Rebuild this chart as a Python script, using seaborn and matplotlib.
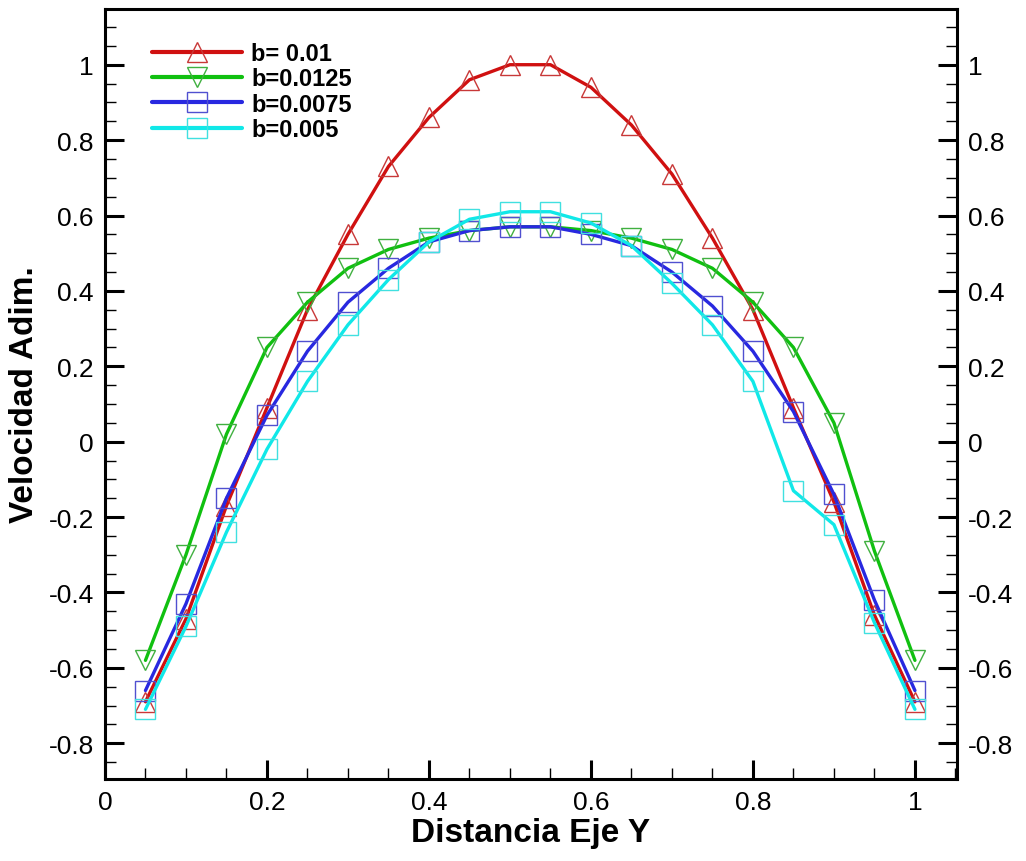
import numpy as np
import pandas as pd
import matplotlib
matplotlib.use('Agg')
import matplotlib.pyplot as plt
from matplotlib.lines import Line2D
from matplotlib.ticker import MultipleLocator
import seaborn as sns

# Datos
x = [0.05, 0.10, 0.15, 0.20, 0.25, 0.30, 0.35, 0.40, 0.45, 0.50,
     0.55, 0.60, 0.65, 0.70, 0.75, 0.80, 0.85, 0.90, 0.95, 1.00]

b_001 = [-0.69, -0.47, -0.17, 0.09, 0.35, 0.55, 0.73, 0.86, 0.96, 1.00,
         1.00, 0.94, 0.84, 0.71, 0.54, 0.35, 0.09, -0.16, -0.46, -0.69]
b_00125 = [-0.58, -0.30, 0.02, 0.25, 0.37, 0.46, 0.51, 0.54, 0.56, 0.57,
           0.57, 0.56, 0.54, 0.51, 0.46, 0.37, 0.25, 0.05, -0.29, -0.58]
b_00075 = [-0.66, -0.43, -0.15, 0.07, 0.24, 0.37, 0.46, 0.53, 0.56, 0.57,
           0.57, 0.55, 0.52, 0.45, 0.36, 0.24, 0.08, -0.14, -0.42, -0.66]
b_0005 = [-0.71, -0.49, -0.24, -0.02, 0.16, 0.31, 0.43, 0.53, 0.59, 0.61,
          0.61, 0.58, 0.52, 0.42, 0.31, 0.16, -0.13, -0.22, -0.48, -0.71]

labels = ['b= 0.01', 'b=0.0125', 'b=0.0075', 'b=0.005']

sns.set_style('ticks')
plt.rcParams['font.family'] = ['Liberation Sans', 'DejaVu Sans']
plt.rcParams['text.color'] = 'black'
plt.rcParams['axes.labelcolor'] = 'black'
plt.rcParams['xtick.color'] = 'black'
plt.rcParams['ytick.color'] = 'black'

fig = plt.figure(figsize=(10.26, 8.62), dpi=100)
ax = fig.add_axes([0.1023, 0.095, 0.8305, 0.8935])

series = [
    (b_001, '#D01010', '#C83838', '^', 15),
    (b_00125, '#10C010', '#40B040', 'v', 15),
    (b_00075, '#2828E0', '#5050D0', 's', 14),
    (b_0005, '#10E8E8', '#40E0E0', 's', 14),
]

handles = []
for (vals, lc, mc, mk, ms), lab in zip(series, labels):
    sns.lineplot(x=x, y=vals, ax=ax, color=lc, linewidth=2.4, sort=False)
    ax.plot(x, vals, linestyle='none', marker=mk, markersize=ms,
            markerfacecolor='none', markeredgecolor=mc, markeredgewidth=1.0)
    handles.append(Line2D([], [], color=lc, linewidth=3, marker=mk, markersize=ms,
                          markerfacecolor='none', markeredgecolor=mc,
                          markeredgewidth=1.0))

ax.set_xlim(0, 1.052)
ax.set_ylim(-0.895, 1.148)

ax.xaxis.set_major_locator(MultipleLocator(0.2))
ax.xaxis.set_minor_locator(MultipleLocator(0.05))
ax.yaxis.set_major_locator(MultipleLocator(0.2))
ax.yaxis.set_minor_locator(MultipleLocator(0.05))

def fmt(v, pos=None):
    s = f'{v:.1f}'.rstrip('0').rstrip('.')
    if s in ('-0', ''):
        s = '0'
    return s

ax.xaxis.set_major_formatter(plt.FuncFormatter(fmt))
ax.yaxis.set_major_formatter(plt.FuncFormatter(fmt))

ax.tick_params(which='major', direction='in', length=14, width=2.2,
               labelsize=19, left=True, right=True, labelright=True,
               bottom=True, top=False, pad=8, colors='black')
ax.tick_params(which='minor', direction='in', length=8, width=1.0,
               left=True, right=True, bottom=True, top=False, colors='black')

for sp in ax.spines.values():
    sp.set_visible(True)
    sp.set_linewidth(2.2)
    sp.set_color('black')

ax.set_xlabel('Distancia Eje Y', fontsize=24, fontweight='bold', labelpad=2,
              color='black')
ax.set_ylabel('Velocidad Adim.', fontsize=24, fontweight='bold', labelpad=6,
              color='black')

leg = ax.legend(handles, labels, loc='upper left', bbox_to_anchor=(0.055, 0.957),
                frameon=False, fontsize=17, handlelength=3.8, handletextpad=0.4,
                labelspacing=0.1, borderpad=0, borderaxespad=0)
for t in leg.get_texts():
    t.set_fontweight('bold')
    t.set_color('black')

fig.savefig('out.png', dpi=100)
